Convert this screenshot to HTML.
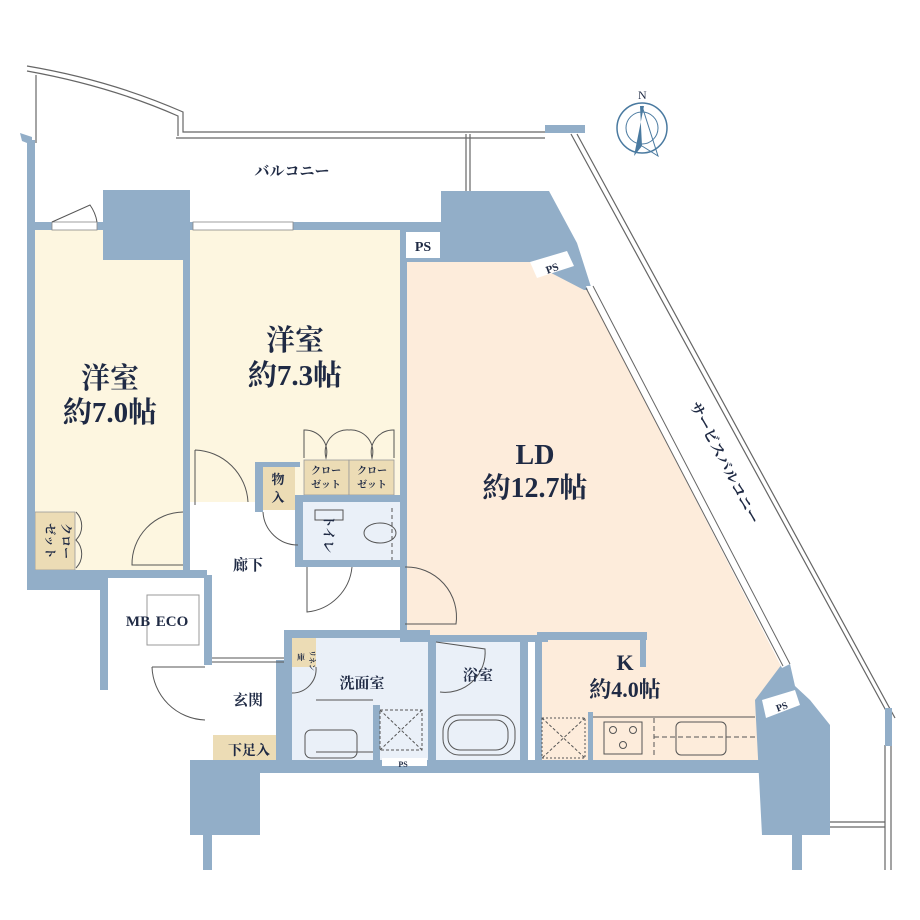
<!DOCTYPE html>
<html><head><meta charset="utf-8"><style>
html,body{margin:0;padding:0;background:#fff;}
svg{display:block;}
text{font-family:"Liberation Serif","Noto Serif CJK SC",serif;fill:#1f2a44;font-weight:bold;}
</style></head><body>
<svg width="920" height="920" viewBox="0 0 920 920" xmlns="http://www.w3.org/2000/svg">
<!-- balcony outlines -->
<g fill="none" stroke="#666" stroke-width="1.2">
<path d="M27,66 Q110,80 183,112 L183,132 L545,132"/>
<path d="M27,71 Q110,86 178,116 L178,136"/>
<path d="M36,75 L36,143"/>
<path d="M176,138 L545,138"/>
<path d="M466,134 L466,191 M470,134 L470,191"/>
<path d="M571,134 L890,718 M577,134 L895,718"/>
<path d="M885,745 L885,870 M891,745 L891,870"/>
<path d="M830,822 L885,822 M830,827 L885,827"/>
</g>
<rect x="545" y="125" width="40" height="8" fill="#92aec8"/>
<rect x="885" y="708" width="7" height="38" fill="#92aec8"/>
<!-- compass -->
<g transform="translate(642,128)">
<circle r="25" fill="none" stroke="#4a7aa0" stroke-width="1.5"/>
<circle r="16" fill="none" stroke="#4a7aa0" stroke-width="1"/>
<path d="M-2,-22 L2,-22 L-8,28 L0,18 Z" fill="#4a7aa0"/>
<path d="M0,-22 L16,28 L0,18" fill="none" stroke="#4a7aa0" stroke-width="1"/>
<text x="-4" y="-29" font-size="12" fill="#4a7aa0" style="font-weight:normal">N</text>
</g>
<!-- room fills -->
<rect x="35" y="230" width="150" height="342" fill="#fdf6e0"/>
<rect x="190" y="230" width="212" height="272" fill="#fdf6e0"/>
<polygon points="405,262 530,262 590,290 787,668 760,700 760,762 540,762 540,638 405,638" fill="#fdecdb"/>
<rect x="300" y="502" width="100" height="63" fill="#eaf0f8"/>
<rect x="292" y="637" width="140" height="127" fill="#eaf0f8"/>
<rect x="435" y="640" width="88" height="122" fill="#eaf0f8"/>
<!-- tan boxes -->
<rect x="35" y="512" width="40" height="58" fill="#ecdcb5" stroke="#999" stroke-width="0.8"/>
<rect x="262" y="465" width="33" height="45" fill="#ecdcb5"/>
<rect x="304" y="460" width="45" height="35" fill="#ecdcb5" stroke="#999" stroke-width="0.8"/>
<rect x="349" y="460" width="45" height="35" fill="#ecdcb5" stroke="#999" stroke-width="0.8"/>
<rect x="292" y="637" width="24" height="30" fill="#ecdcb5"/>
<rect x="213" y="735" width="72" height="28" fill="#ecdcb5"/>
<!-- walls -->
<g fill="#92aec8">
<polygon points="20,133 32,137 32,145 22,141"/>
<rect x="27" y="140" width="8" height="450"/>
<rect x="27" y="222" width="30" height="8"/>
<rect x="103" y="190" width="82" height="70"/>
<rect x="97" y="222" width="100" height="8"/>
<rect x="183" y="190" width="7" height="385"/>
<rect x="27" y="570" width="180" height="20"/>
<rect x="292" y="222" width="150" height="8"/>
<polygon points="441,191 549,191 577,243 592,290 584,290 530,262 405,262 405,230 441,230"/>
<rect x="400" y="222" width="7" height="420"/>
<rect x="100" y="575" width="8" height="115"/>
<rect x="204" y="575" width="8" height="90"/>
<rect x="255" y="462" width="8" height="50"/>
<rect x="255" y="462" width="45" height="5"/>
<rect x="295" y="495" width="8" height="72"/>
<rect x="295" y="495" width="108" height="7"/>
<rect x="295" y="560" width="108" height="7"/>
<rect x="284" y="630" width="8" height="137"/>
<rect x="284" y="630" width="120" height="8"/>
<rect x="400" y="630" width="30" height="12"/>
<rect x="428" y="635" width="8" height="132"/>
<rect x="428" y="635" width="120" height="7"/>
<rect x="520" y="635" width="8" height="132"/>
<rect x="537" y="632" width="110" height="8"/>
<rect x="640" y="632" width="6" height="35"/>
<rect x="535" y="635" width="7" height="130"/>
<rect x="588" y="712" width="5" height="52"/>
<rect x="373" y="705" width="7" height="60"/>
<rect x="190" y="760" width="600" height="13"/>
<rect x="190" y="765" width="70" height="70"/>
<rect x="203" y="830" width="9" height="40"/>
<polygon points="755,700 782,664 790,664 795,686 810,700 830,725 830,835 762,835"/>
<rect x="792" y="830" width="10" height="40"/>
<rect x="276" y="660" width="9" height="100"/>
</g>
<!-- diagonal window -->
<polygon points="586,286 594,286 790,664 782,668" fill="#fff"/>
<path d="M586,288 L783,666 M593,286 L790,664" fill="none" stroke="#666" stroke-width="1"/>
<!-- PS boxes -->
<rect x="406" y="232" width="34" height="26" fill="#fff"/>
<text x="423" y="251" font-size="14" text-anchor="middle">PS</text>
<polygon points="530,262 567,251 574,266 537,278" fill="#fff"/>
<text x="552" y="272" font-size="11" text-anchor="middle" transform="rotate(-20 552 268)">PS</text>
<polygon points="762,700 795,690 800,705 766,718" fill="#fff"/>
<text x="782" y="710" font-size="10" text-anchor="middle" transform="rotate(-20 782 707)">PS</text>
<rect x="382" y="758" width="45" height="8" fill="#fff"/>
<text x="403" y="767" font-size="8" text-anchor="middle">PS</text>
<!-- MB ECO -->
<rect x="108" y="578" width="96" height="72" fill="#fff"/>
<rect x="147" y="595" width="52" height="50" fill="#fff" stroke="#999"/>
<!-- windows -->
<g fill="#fff" stroke="#888" stroke-width="0.8">
<rect x="52" y="222" width="45" height="8"/>
<rect x="193" y="222" width="100" height="8"/>
</g>
<!-- doors & fixtures -->
<g fill="none" stroke="#555" stroke-width="1">
<path d="M52,222 L90,205 A40,40 0 0 1 97,222"/>
<path d="M195,450 L195,505 M195,450 A55,55 0 0 1 248,502"/>
<path d="M183,512 A52,52 0 0 0 132,565 L183,565"/>
<path d="M76,512 A20,20 0 0 1 76,540 A20,20 0 0 1 76,568"/>
<path d="M304,458 L304,430 A22,22 0 0 1 326,458 A22,22 0 0 1 349,430 A22,22 0 0 1 372,458 A22,22 0 0 1 394,430 L394,458"/>
<path d="M263,512 A35,35 0 0 0 298,545"/>
<path d="M307,567 L307,612 A50,50 0 0 0 352,567"/>
<path d="M405,567 A50,50 0 0 1 456,624 L405,624"/>
<path d="M152,667 A55,55 0 0 0 205,720 M152,667 L205,667"/>
<path d="M316,667 A24,24 0 0 1 292,693"/>
<path d="M436,642 L485,649 A40,40 0 0 1 440,692"/>
<rect x="305" y="730" width="52" height="28" rx="6"/>
<rect x="380" y="710" width="42" height="40" stroke-dasharray="3,2"/>
<path d="M380,710 L422,750 M422,710 L380,750" stroke-dasharray="3,2"/>
<rect x="443" y="715" width="72" height="40" rx="16"/>
<rect x="448" y="720" width="60" height="30" rx="12"/>
<rect x="542" y="718" width="43" height="40" stroke-dasharray="2,2"/>
<path d="M542,718 L585,758 M585,718 L542,758" stroke-dasharray="3,2"/>
<rect x="604" y="722" width="38" height="32"/>
<circle cx="613" cy="730" r="3.5"/><circle cx="633" cy="730" r="3.5"/><circle cx="623" cy="745" r="3.5"/>
<path d="M654,718 L654,758 M654,737 L755,737" stroke-dasharray="5,3"/>
<rect x="676" y="722" width="50" height="33" rx="5"/>
<path d="M593,717 L755,717"/>
<path d="M316,700 L373,700 M316,752 L373,752"/>
<rect x="315" y="510" width="28" height="10"/>
<ellipse cx="380" cy="533" rx="16" ry="10"/>
<path d="M392,508 L392,560" stroke-dasharray="4,3"/>
<path d="M212,662 L284,662 M212,658 L284,658"/>
</g>
<!-- labels -->
<text x="292" y="176" font-size="15" text-anchor="middle">バルコニー</text>
<text x="110" y="388" font-size="29" text-anchor="middle">洋室</text>
<text x="110" y="422" font-size="29" text-anchor="middle">約7.0帖</text>
<text x="295" y="350" font-size="29" text-anchor="middle">洋室</text>
<text x="295" y="385" font-size="29" text-anchor="middle">約7.3帖</text>
<text x="535" y="464" font-size="28" text-anchor="middle">LD</text>
<text x="535" y="497" font-size="28" text-anchor="middle">約12.7帖</text>
<text x="625" y="670" font-size="22" text-anchor="middle">K</text>
<text x="625" y="697" font-size="22" text-anchor="middle">約4.0帖</text>
<text x="720" y="465" font-size="15" text-anchor="middle" transform="rotate(63 720 465)">サービスバルコニー</text>
<text x="248" y="570" font-size="15" text-anchor="middle">廊下</text>
<text x="138" y="626" font-size="15" text-anchor="middle">MB</text>
<text x="172" y="626" font-size="15" text-anchor="middle">ECO</text>
<text x="248" y="705" font-size="15" text-anchor="middle">玄関</text>
<text x="249" y="755" font-size="14" text-anchor="middle">下足入</text>
<text x="362" y="688" font-size="15" text-anchor="middle">洗面室</text>
<text x="478" y="680" font-size="15" text-anchor="middle">浴室</text>
<text x="278" y="484" font-size="13" text-anchor="middle">物</text>
<text x="278" y="502" font-size="13" text-anchor="middle">入</text>
<text x="326" y="474" font-size="10" text-anchor="middle">クロー</text>
<text x="326" y="488" font-size="10" text-anchor="middle">ゼット</text>
<text x="372" y="474" font-size="10" text-anchor="middle">クロー</text>
<text x="372" y="488" font-size="10" text-anchor="middle">ゼット</text>
<text x="324" y="534" font-size="13" text-anchor="middle" transform="rotate(90 324 534)">トイレ</text>
<text x="62" y="541" font-size="12" text-anchor="middle" transform="rotate(90 62 541)">クロー</text>
<text x="46" y="541" font-size="12" text-anchor="middle" transform="rotate(90 46 541)">ゼット</text>
<text x="297" y="660" font-size="8">庫</text>
<text x="310" y="650" font-size="7" transform="rotate(90 310 650)">リネン</text>
</svg>
</body></html>
